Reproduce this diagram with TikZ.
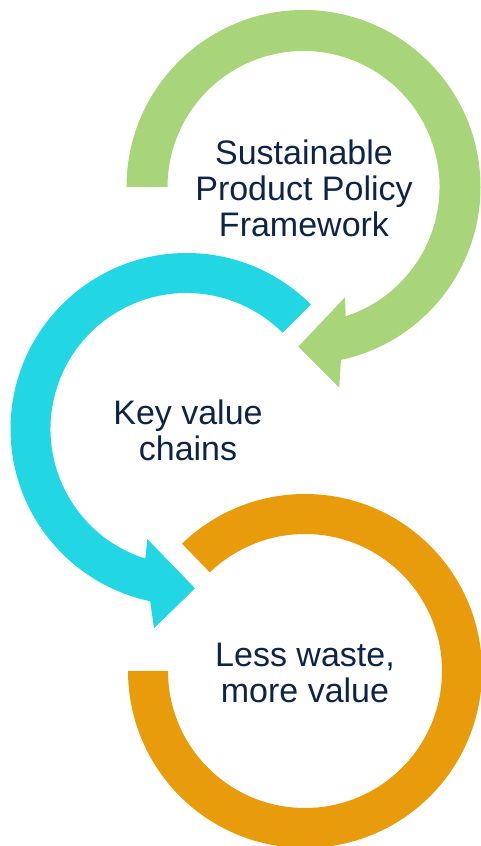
\documentclass[tikz,border=0pt]{standalone}
\usepackage{fontspec}
\setmainfont{Liberation Sans}
\usetikzlibrary{calc}
\definecolor{arcgreen}{RGB}{168,212,122}
\definecolor{arccyan}{RGB}{34,214,228}
\definecolor{arcorange}{RGB}{232,156,12}
\definecolor{textnavy}{RGB}{13,36,72}
\tikzset{
  lbl/.style={align=center, text=textnavy, inner sep=0pt,
    font=\fontsize{34}{36}\selectfont},
}
\begin{document}
\begin{tikzpicture}[x=1pt,y=1pt]
\useasboundingbox (0,0) rectangle (481,846);
\clip (0,0) rectangle (481,846);
% centres
\coordinate (G) at (303.5,659);
\coordinate (C) at (186.5,417);
\coordinate (O) at (305,175);
% green arrow points
\coordinate (gbl) at (339.3,458.3);
\coordinate (gtip) at (298.3,499.3);
\coordinate (gbu) at (345,548.7);
% cyan arrow points
\coordinate (cbl) at (154,217.7);
\coordinate (ctip) at (195,257.7);
\coordinate (cbu) at (147.3,307);
% green
\fill[arcgreen] ($(G)+(180:177)$) arc[start angle=180, end angle=-77.8, radius=177]
  -- (gbl) -- (gtip) -- (gbu) -- ($(G)+(-71.9:136)$)
  arc[start angle=-71.9, end angle=180, radius=136] -- cycle;
% cyan
\fill[arccyan] ($(C)+(45:176)$) arc[start angle=45, end angle=258.1, radius=176]
  -- (cbl) -- (ctip) -- (cbu) -- ($(C)+(252.4:136)$)
  arc[start angle=252.4, end angle=45, radius=136] -- cycle;
% orange
\fill[arcorange] ($(O)+(134:177)$) arc[start angle=134, end angle=-180, radius=177]
  -- ($(O)+(-180:137)$) arc[start angle=-180, end angle=134, radius=137] -- cycle;
% labels
\node[lbl] (t1) at (304,658) {Sustainable\\Product Policy\\Framework};
\node[lbl] (t2) at (188,415.4) {Key value\\chains};
\node[lbl] (t3) at (305,173) {Less waste,\\more value};
\end{tikzpicture}
\end{document}
